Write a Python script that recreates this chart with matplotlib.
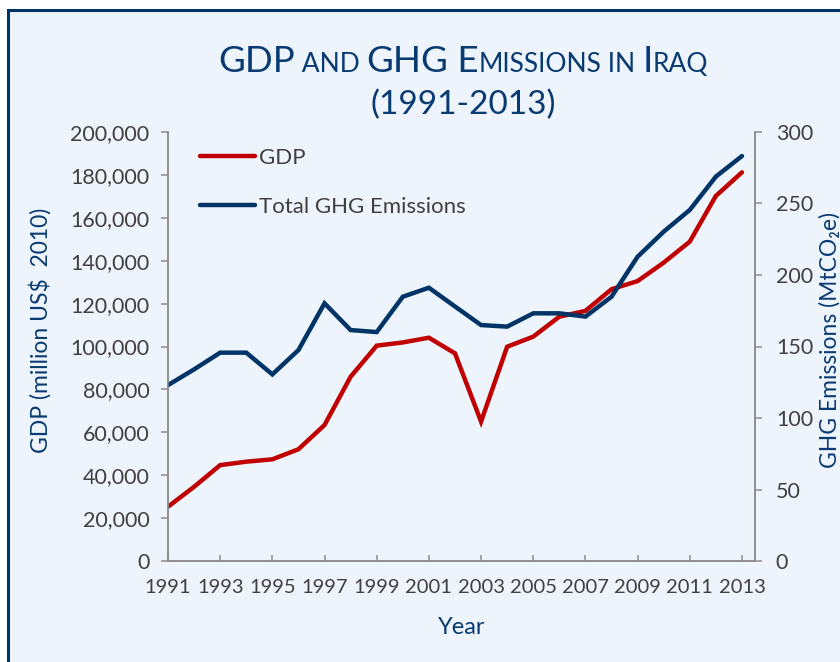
import matplotlib
matplotlib.use("Agg")
import matplotlib.pyplot as plt
from matplotlib.patches import Rectangle
from matplotlib.ticker import FuncFormatter, MultipleLocator

# ---- data ----
years = list(range(1991, 2014))
gdp = [25300, 34600, 44700, 46300, 47400, 52100, 63400, 85900, 100400, 101900,
       104100, 96800, 65000, 99900, 104600, 113900, 116600, 126700, 130500,
       139100, 148900, 170200, 181200]
ghg = [123, 134, 145.7, 145.7, 130.5, 147.5, 180.2, 161.5, 160.1, 184.8,
       191.1, 178, 165, 163.9, 173.2, 173.2, 170.9, 184.8, 212.8, 230.3,
       245.5, 268.8, 283.2]
xticks = list(range(1991, 2014, 2))
series_labels = ["GDP", "Total GHG Emissions"]
title_pieces = [("GDP", "big"), (" AND ", "small"), ("GHG", "big"), (" E", "big"),
                ("MISSIONS", "small"), (" IN ", "small"), ("I", "big"), ("RAQ", "small")]
title_line2 = "(1991-2013)"

# ---- style ----
FONT = ["Lato", "DejaVu Sans"]
plt.rcParams["font.family"] = FONT
NAVY = "#0A3A72"
LINE_BLUE = "#003366"
RED = "#C00000"
TICK_TXT = "#404040"
SPINE = "#8C8C8C"
BG = "#EDF4FC"

W, H = 840, 662
fig = plt.figure(figsize=(W / 100, H / 100), dpi=100, facecolor="white")

# background panel with border (right/bottom edges off canvas)
fig.patches.append(Rectangle((8 / W, -0.1), 1.2, 1.1 - 10 / H, transform=fig.transFigure,
                             facecolor=BG, edgecolor=LINE_BLUE, linewidth=2.2, zorder=-10))

ax = fig.add_axes([168 / W, 1 - 561 / H, (755 - 168) / W, (561 - 132) / H])
ax.set_facecolor("none")
ax2 = ax.twinx()
ax2.set_facecolor("none")

l1, = ax.plot(years, gdp, color=RED, lw=3.2, solid_capstyle="round", solid_joinstyle="miter")
l2, = ax2.plot(years, ghg, color=LINE_BLUE, lw=3.2, solid_capstyle="round", solid_joinstyle="miter")

ax.set_xlim(1991, 2013.5)
ax.set_ylim(0, 200000)
ax2.set_ylim(0, 300)
ax.yaxis.set_major_locator(MultipleLocator(20000))
ax2.yaxis.set_major_locator(MultipleLocator(50))
ax.set_xticks(xticks)
ax.set_xticklabels([str(y) for y in xticks])
ax.yaxis.set_major_formatter(FuncFormatter(lambda v, p: f"{int(v):,}"))

for a in (ax, ax2):
    a.spines["top"].set_visible(False)
    for s in ("left", "right", "bottom"):
        a.spines[s].set_color(SPINE)
        a.spines[s].set_linewidth(1.1)

ax.tick_params(axis="x", direction="in", length=4.5, width=1.1, color=SPINE,
               labelsize=14.5, labelcolor=TICK_TXT, pad=13)
ax.tick_params(axis="y", direction="out", length=5, width=1.1, color=SPINE,
               labelsize=15.5, labelcolor=TICK_TXT, pad=8.5)
ax2.tick_params(axis="y", direction="out", length=5, width=1.1, color=SPINE,
                labelsize=15.5, labelcolor=TICK_TXT, pad=10)

# axis labels
fig.text(40 / W, 1 - 330 / H, "GDP (million US$  2010)", rotation=90, ha="center", va="center",
         fontsize=16.5, color=NAVY)
fig.text(830 / W, 1 - 340 / H, "GHG Emissions (MtCO\u2082e)", rotation=90, ha="center", va="center",
         fontsize=16.5, color=NAVY, family=FONT)
fig.text(462 / W, 1 - 628 / H, "Year", ha="center", va="center", fontsize=17, color=NAVY)

# legend
leg = ax2.legend([l1, l2], series_labels, loc="upper left",
                 bbox_to_anchor=(200 / W, 1 - 148 / H), bbox_transform=fig.transFigure,
                 frameon=False, fontsize=16, handlelength=2.48, handletextpad=0.18,
                 labelspacing=1.3, borderpad=0, borderaxespad=0)
for t in leg.get_texts():
    t.set_color(TICK_TXT)

# title with small caps
sizes = {"big": 26.5, "small": 19}
r = fig.canvas.get_renderer()
widths = []
for s, k in title_pieces:
    t = fig.text(0, 0, s, fontsize=sizes[k])
    widths.append(t.get_window_extent(r).width)
    t.remove()
total = sum(widths)
x = 463 - total / 2
for (s, k), w in zip(title_pieces, widths):
    fig.text(x / W, 1 - 72 / H, s, fontsize=sizes[k], color=NAVY, ha="left", va="baseline")
    x += w
fig.text(463 / W, 1 - 114 / H, title_line2, fontsize=24, color=NAVY, ha="center", va="baseline")

fig.savefig("out.png", dpi=100, facecolor=fig.get_facecolor())
